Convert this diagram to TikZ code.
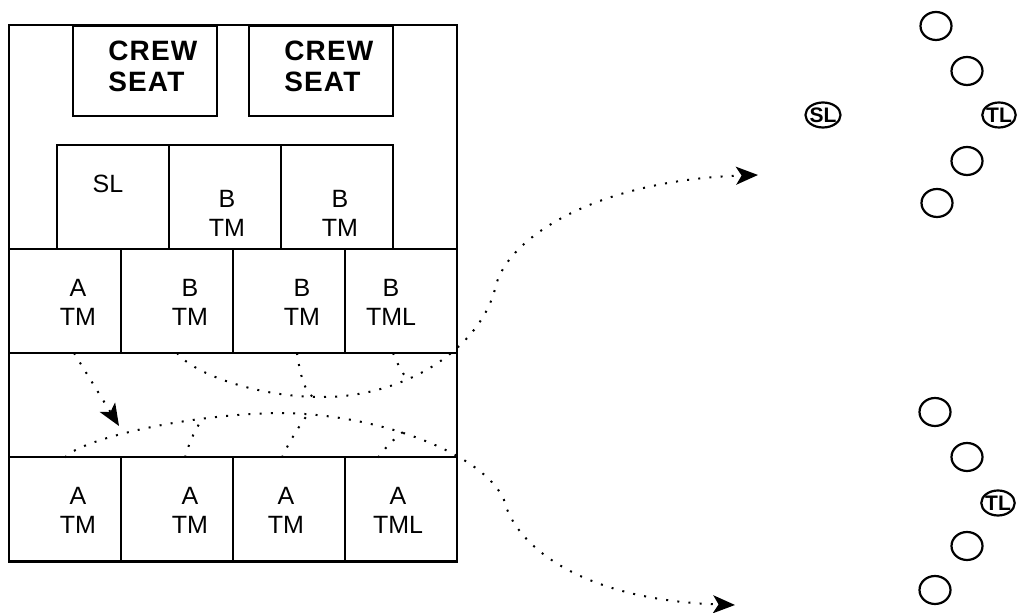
\documentclass[tikz,border=0pt]{standalone}
\usepackage{fontspec}
\setmainfont{Liberation Sans}
\usetikzlibrary{arrows.meta, positioning, shapes.geometric}

\begin{document}
\begin{tikzpicture}[
      x=0.5pt, y=-0.5pt,
      node distance=0pt,
      box/.style={draw, line width=1pt, outer sep=0pt, inner sep=0pt,
                  minimum width=56pt, minimum height=52pt},
      seat/.style={box, minimum width=72pt, minimum height=45pt},
      txt/.style={font=\fontsize{12.5}{14.5}\selectfont, align=center, inner sep=0pt},
      big/.style={font=\fontsize{14}{15.5}\selectfont\bfseries\addfontfeatures{LetterSpace=4}, align=left, inner sep=0pt},
      spot/.style={draw, ellipse, line width=1.1pt, inner sep=0pt,
                  minimum width=15.5pt, minimum height=14pt},
      lead/.style={spot, minimum width=16pt, minimum height=12.5pt, inner sep=-0.5pt,
                   font=\fontsize{10.5}{11}\selectfont\bfseries},
      move/.style={line width=1pt, dash pattern=on 1pt off 4.6pt},
      >={Stealth[length=11pt, width=9pt, inset=2.8pt]}]
    \useasboundingbox (0,0) rectangle (1019,613);
    % cabin
    \node[box, minimum width=224pt, minimum height=268.5pt] (cab) at (233,293.5) {};
    \node[seat] (cs1) at (145,71) {};
    \node[seat] (cs2) at (320.5,71) {};
    \node[big, anchor=west] (cs1t) at (108,66) {CREW\\SEAT};
    \node[big, anchor=west] (cs2t) at (284,66) {CREW\\SEAT};
    \node[box] (r2a) at (113,197) {};
    \node[box, right=of r2a] (r2b) {};
    \node[box, right=of r2b] (r2c) {};
    \node[box] (r3a) at (65,301) {};
    \node[box, right=of r3a] (r3b) {};
    \node[box, right=of r3b] (r3c) {};
    \node[box, right=of r3c] (r3d) {};
    \node[box] (r4a) at (65,509.5) {};
    \node[box, right=of r4a] (r4b) {};
    \node[box, right=of r4b] (r4c) {};
    \node[box, right=of r4c] (r4d) {};
    \node[txt] (t2a) at (108,184) {SL};
    \node[txt] (t2b) at (227,213) {B\\TM};
    \node[txt] (t2c) at (340,213) {B\\TM};
    \node[txt] (t3a) at (78,302) {A\\TM};
    \node[txt] (t3b) at (190,302) {B\\TM};
    \node[txt] (t3c) at (302,302) {B\\TM};
    \node[txt] (t3d) at (391,302) {B\\TML};
    \node[txt] (t4a) at (78,510) {A\\TM};
    \node[txt] (t4b) at (190,510) {A\\TM};
    \node[txt] (t4c) at (286,510) {A\\TM};
    \node[txt] (t4d) at (398,510) {A\\TML};
    % formations
    \node[spot] (p1) at (936,26) {};
    \node[spot] (p2) at (967,71) {};
    \node[lead] (sl) at (823,115) {SL};
    \node[lead] (tl) at (999,115) {TL};
    \node[spot] (p3) at (967,161) {};
    \node[spot] (p4) at (937,203) {};
    \node[spot] (q1) at (935,412) {};
    \node[spot] (q2) at (967,457) {};
    \node[lead] (tl2) at (998,503) {TL};
    \node[spot] (q3) at (967,546) {};
    \node[spot] (q4) at (935,590) {};
    % exits
    \coordinate (m1) at (320,397); \coordinate (m2) at (496,285);
    \coordinate (j1) at (313,397); \coordinate (j2) at (409,380);
    \coordinate (goA) at (758,175);
    \coordinate (n1) at (277,413); \coordinate (n2) at (504,500);
    \coordinate (j3) at (203,418); \coordinate (j4) at (308,414);
    \coordinate (j5) at (403,432); \coordinate (goB) at (735,605);
    \coordinate (hit) at (119,426);
    \draw[move,->] (r3b.south) .. controls (195,375) and (260,397) .. (m1)
      .. controls (405,398) and (482,348) .. (m2)
      .. controls (510,235) and (600,180) .. (goA);
    \draw[move] ([xshift=4pt]r3c.south) .. controls (300,375) and (305,392) .. (j1);
    \draw[move] ([xshift=-4pt]r3d.south) .. controls (398,365) and (404,377) .. (j2);
    \draw[move,->] (r4a.north) .. controls (80,440) and (180,415) .. (n1)
      .. controls (380,413) and (485,455) .. (n2)
      .. controls (515,545) and (580,600) .. (goB);
    \draw[move] ([xshift=4pt]r4b.north) .. controls (190,440) and (196,428) .. (j3);
    \draw[move] ([xshift=-3.5pt]r4c.north) .. controls (290,440) and (300,425) .. (j4);
    \draw[move] ([xshift=-11.5pt]r4d.north) .. controls (385,448) and (395,438) .. (j5);
    \draw[move,->] ([xshift=4.5pt]r3a.south) -- (hit);
  \end{tikzpicture}
\end{document}
